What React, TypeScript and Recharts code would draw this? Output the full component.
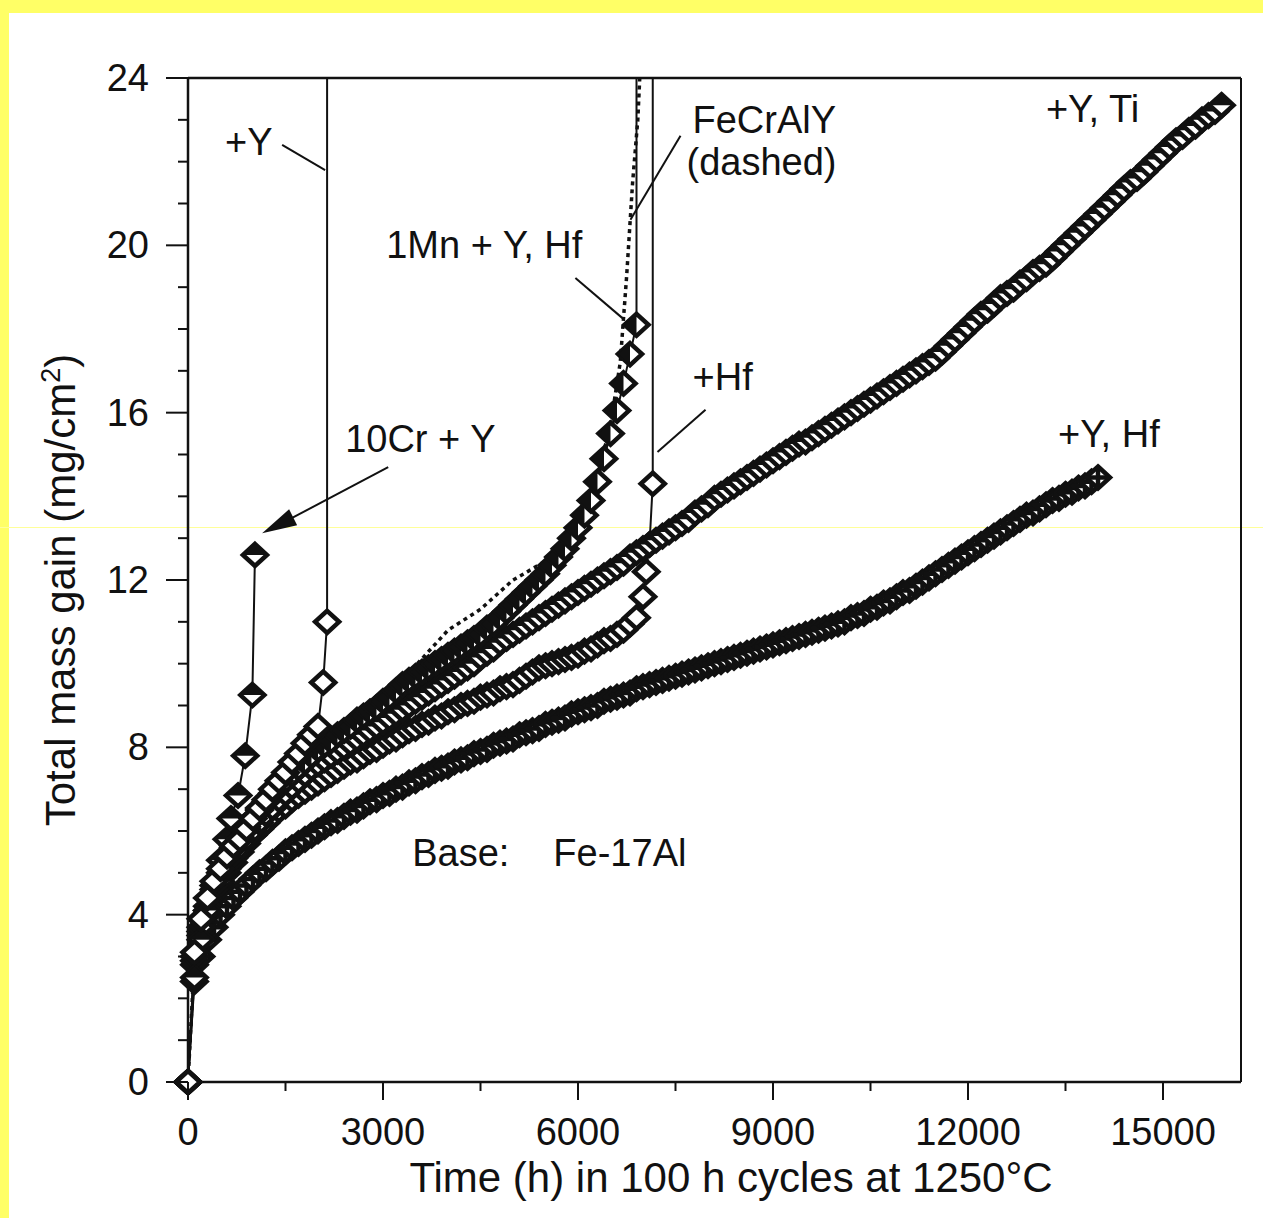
import React from "react";
import {
  LineChart,
  Line,
  XAxis,
  YAxis,
  ReferenceLine,
  ReferenceDot,
} from "recharts";

// one reading every 100 h cycle, starting at t = 0
const CYCLE_H = 100;

const yHfMass = [
  0, 2.4, 3.0, 3.4, 3.7, 4.0, 4.2, 4.4, 4.55, 4.7,
  4.85, 5.0, 5.1, 5.25, 5.35, 5.5, 5.6, 5.7, 5.8, 5.9,
  6.0, 6.1, 6.2, 6.25, 6.35, 6.45, 6.5, 6.6, 6.7, 6.75,
  6.85, 6.9, 7.0, 7.05, 7.15, 7.2, 7.3, 7.35, 7.45, 7.5,
  7.55, 7.65, 7.7, 7.75, 7.85, 7.9, 7.95, 8.05, 8.1, 8.15,
  8.2, 8.3, 8.35, 8.4, 8.45, 8.55, 8.6, 8.65, 8.7, 8.8,
  8.85, 8.9, 8.95, 9.0, 9.1, 9.15, 9.2, 9.25, 9.3, 9.4,
  9.45, 9.5, 9.55, 9.6, 9.65, 9.7, 9.75, 9.8, 9.85, 9.9,
  9.95, 10.0, 10.05, 10.1, 10.15, 10.2, 10.25, 10.3, 10.35, 10.4,
  10.45, 10.5, 10.55, 10.6, 10.65, 10.7, 10.75, 10.8, 10.85, 10.9,
  10.95, 11.0, 11.1, 11.15, 11.2, 11.3, 11.35, 11.45, 11.5, 11.6,
  11.7, 11.75, 11.85, 11.95, 12.05, 12.15, 12.25, 12.35, 12.45, 12.55,
  12.65, 12.75, 12.85, 12.95, 13.05, 13.15, 13.25, 13.35, 13.45, 13.55,
  13.6, 13.7, 13.8, 13.9, 13.95, 14.05, 14.1, 14.2, 14.25, 14.35,
  14.45,
];

const yTiMass = [
  0, 2.9, 3.6, 4.1, 4.5, 4.8, 5.1, 5.35, 5.6, 5.8,
  6.0, 6.2, 6.4, 6.55, 6.75, 6.9, 7.05, 7.2, 7.35, 7.5,
  7.6, 7.7, 7.8, 7.9, 8.0, 8.1, 8.2, 8.3, 8.4, 8.5,
  8.6, 8.7, 8.8, 8.9, 9.0, 9.1, 9.2, 9.3, 9.4, 9.5,
  9.6, 9.7, 9.8, 9.9, 10.0, 10.15, 10.25, 10.35, 10.5, 10.6,
  10.7, 10.8, 10.9, 11.0, 11.1, 11.2, 11.3, 11.4, 11.5, 11.6,
  11.7, 11.8, 11.9, 12.0, 12.1, 12.2, 12.3, 12.4, 12.55, 12.65,
  12.75, 12.85, 12.95, 13.05, 13.15, 13.25, 13.35, 13.45, 13.6, 13.7,
  13.8, 13.95, 14.05, 14.15, 14.25, 14.35, 14.45, 14.55, 14.65, 14.75,
  14.85, 14.95, 15.05, 15.15, 15.25, 15.3, 15.4, 15.5, 15.6, 15.7,
  15.8, 15.9, 16.0, 16.1, 16.2, 16.3, 16.4, 16.5, 16.6, 16.7,
  16.8, 16.9, 17.0, 17.1, 17.2, 17.3, 17.45, 17.6, 17.75, 17.9,
  18.05, 18.2, 18.35, 18.45, 18.6, 18.75, 18.85, 18.95, 19.1, 19.2,
  19.35, 19.45, 19.55, 19.7, 19.85, 20.0, 20.15, 20.3, 20.45, 20.6,
  20.75, 20.9, 21.05, 21.2, 21.35, 21.5, 21.6, 21.75, 21.9, 22.05,
  22.2, 22.35, 22.5, 22.6, 22.75, 22.85, 23.0, 23.1, 23.2, 23.35,
];

const hfMass = [
  0, 2.8, 3.5, 4.0, 4.4, 4.75, 5.0, 5.25, 5.5, 5.7,
  5.9, 6.05, 6.2, 6.35, 6.5, 6.6, 6.75, 6.85, 6.95, 7.05,
  7.15, 7.25, 7.35, 7.45, 7.55, 7.65, 7.7, 7.8, 7.9, 7.95,
  8.05, 8.15, 8.2, 8.3, 8.4, 8.45, 8.55, 8.6, 8.7, 8.75,
  8.85, 8.9, 9.0, 9.05, 9.1, 9.2, 9.25, 9.3, 9.4, 9.45,
  9.5, 9.6, 9.7, 9.8, 9.9, 9.95, 10.0, 10.05, 10.1, 10.15,
  10.2, 10.3, 10.35, 10.45, 10.55, 10.6, 10.7, 10.8, 10.95, 11.1,
];
// breakaway after 6900 h: [time, mass], last point at the top of the frame
const hfTail = [[7000, 11.6], [7050, 12.2], [7100, 12.85], [7150, 14.3], [7150, 24]];

const mnMass = [
  0, 3.0, 3.7, 4.2, 4.6, 5.0, 5.3, 5.6, 5.85, 6.1,
  6.3, 6.5, 6.7, 6.9, 7.05, 7.2, 7.35, 7.5, 7.65, 7.8,
  7.95, 8.05, 8.15, 8.3, 8.4, 8.5, 8.65, 8.75, 8.85, 8.95,
  9.1, 9.2, 9.35, 9.5, 9.6, 9.7, 9.8, 9.9, 10.0, 10.1,
  10.2, 10.3, 10.4, 10.5, 10.6, 10.7, 10.85, 10.95, 11.1, 11.25,
  11.4, 11.55, 11.7, 11.85, 12.0, 12.15, 12.35, 12.55, 12.75, 13.0,
  13.25, 13.55, 13.9, 14.35, 14.9, 15.5, 16.05, 16.7, 17.4, 18.1,
];
const mnTail = [[6900, 24]];

const yMass = [
  0, 3.1, 3.9, 4.4, 4.8, 5.1, 5.4, 5.65, 5.8, 6.05,
  6.3, 6.55, 6.75, 7.0, 7.2, 7.4, 7.65, 7.85, 8.1, 8.3,
  8.5,
];
const yTail = [[2080, 9.55], [2140, 11.0], [2140, 24]];

const crTime = [0, 100, 200, 300, 400, 500, 600, 660, 770, 880, 990, 1030];
const crMass = [0, 2.5, 3.4, 4.1, 4.7, 5.3, 5.8, 6.3, 6.85, 7.8, 9.25, 12.6];

const fecralyTime = [0, 100, 300, 600, 1000, 1500, 2000, 2500, 3000, 3500, 4000, 4500, 5000, 5500, 6000, 6300, 6500, 6650, 6750, 6840, 6920, 6950];
const fecralyMass = [0, 3.0, 4.2, 5.3, 6.4, 7.35, 8.05, 8.65, 9.3, 9.95, 10.8, 11.3, 12.0, 12.45, 13.35, 14.5, 15.7, 17.2, 19.3, 21.5, 23.0, 24];

const xMajor = [0, 3000, 6000, 9000, 12000, 15000];
const xTicks = [0, 1500, 3000, 4500, 6000, 7500, 9000, 10500, 12000, 13500, 15000];
const yTicks = [0, 1, 2, 3, 4, 5, 6, 7, 8, 9, 10, 11, 12, 13, 14, 15, 16, 17, 18, 19, 20, 21, 22, 23, 24];

const FONT = "'Liberation Sans', Arial, Helvetica, sans-serif";
const INK = "#111";
const Y_MAX = 24;
const X_MAX = 16200;

const byCycle = (mass: number[], tail: number[][] = []) =>
  mass.map((v, i) => ({ t: i * CYCLE_H, v })).concat(tail.map(([t, v]) => ({ t, v })));
const paired = (time: number[], mass: number[]) => time.map((t, i) => ({ t, v: mass[i] }));

const yHfData = byCycle(yHfMass);
const yTiData = byCycle(yTiMass);
const hfData = byCycle(hfMass, hfTail);
const mnData = byCycle(mnMass, mnTail);
const yData = byCycle(yMass, yTail);
const crData = paired(crTime, crMass);
const fecralyData = paired(fecralyTime, fecralyMass);

type Kind = "open" | "top" | "left" | "cross";

function diamond(kind: Kind) {
  return (p: any) => {
    const { cx, cy, payload, index } = p;
    // the point at the frame top only carries the line off-scale
    if (cx == null || cy == null || payload.v >= Y_MAX) return <g key={index} />;
    const w = 12;
    const h = 11;
    const d = `M${cx},${cy - h}L${cx + w},${cy}L${cx},${cy + h}L${cx - w},${cy}Z`;
    return (
      <g key={index}>
        <path d={d} fill="#fff" stroke={INK} strokeWidth={4.5} strokeLinejoin="miter" />
        {kind === "top" && (
          <path d={`M${cx - w},${cy}L${cx},${cy - h}L${cx + w},${cy}Z`} fill={INK} />
        )}
        {kind === "left" && (
          <path d={`M${cx},${cy - h}L${cx - w},${cy}L${cx},${cy + h}Z`} fill={INK} />
        )}
        {kind === "cross" && (
          <path d={`M${cx - w},${cy}H${cx + w}M${cx},${cy - h}V${cy + h}`} stroke={INK} strokeWidth={4.5} />
        )}
      </g>
    );
  };
}

function YTick(props: any) {
  const { x, y, payload } = props;
  const major = payload.value % 4 === 0;
  return (
    <g>
      <line x1={x - (major ? 22 : 10)} x2={x} y1={y} y2={y} stroke={INK} strokeWidth={2} />
      {major && (
        <text x={x - 39} y={y} dy={13} textAnchor="end" fontSize={38} fontFamily={FONT} fill={INK}>
          {payload.value}
        </text>
      )}
    </g>
  );
}

function XTick(props: any) {
  const { x, y, payload } = props;
  const major = xMajor.includes(payload.value);
  return (
    <g>
      <line x1={x} x2={x} y1={y} y2={y + (major ? 18 : 9)} stroke={INK} strokeWidth={2} />
      {major && (
        <text x={x} y={y + 63} textAnchor="middle" fontSize={38} fontFamily={FONT} fill={INK}>
          {payload.value}
        </text>
      )}
    </g>
  );
}

const note = (text: string) => (p: any) =>
  (
    <text x={p.cx} y={p.cy} fontSize={38} fontFamily={FONT} fill={INK}>
      {text}
    </text>
  );

const arrowHead = (p: any) => (
  <polygon
    points={`${p.cx},${p.cy} ${p.cx + 35},${p.cy - 8} ${p.cx + 27},${p.cy - 24}`}
    fill={INK}
  />
);

const labels: [string, number, number][] = [
  ["+Y", 570, 22.16],
  ["10Cr + Y", 2418, 15.06],
  ["1Mn + Y, Hf", 3049, 19.7],
  ["FeCrAlY", 7762, 22.69],
  ["(dashed)", 7670, 21.68],
  ["+Hf", 7762, 16.54],
  ["+Y, Ti", 13199, 22.95],
  ["+Y, Hf", 13384, 15.18],
  ["Base:", 3450, 5.16],
  ["Fe-17Al", 5621, 5.16],
];

const leaders: [number, number, number, number][] = [
  [1448, 22.4, 2110, 21.8],
  [3080, 14.7, 1500, 13.4],
  [5960, 19.22, 6684, 18.26],
  [7577, 22.62, 6807, 20.61],
  [7962, 16.07, 7223, 15.06],
];

const xTitle = (p: any) => {
  const vb = p.viewBox;
  return (
    <text x={731} y={vb.y + 110} textAnchor="middle" fontSize={42} fontFamily={FONT} fill={INK}>
      Time (h) in 100 h cycles at 1250°C
    </text>
  );
};

const yTitle = () => (
  <text
    x={75}
    y={590}
    transform="rotate(-90, 75, 590)"
    textAnchor="middle"
    fontSize={42}
    fontFamily={FONT}
    fill={INK}
  >
    <tspan>Total mass gain (mg/cm</tspan>
    <tspan dy={-15} fontSize={27}>2</tspan>
    <tspan dy={15}>)</tspan>
  </text>
);

export default function App() {
  const line = { stroke: INK, strokeWidth: 2, type: "linear" as const, isAnimationActive: false, activeDot: false };
  return (
    <div style={{ position: "absolute", left: 0, top: 0, width: 1263, height: 1218, background: "#fff" }}>
      <div style={{ position: "absolute", left: 0, top: 0, width: 1263, height: 13, background: "#ffff66" }} />
      <div style={{ position: "absolute", left: 0, top: 0, width: 9, height: 1218, background: "#ffff66" }} />
      <div style={{ position: "absolute", left: 0, top: 527, width: 1263, height: 1, background: "#ffff99" }} />
      <div style={{ position: "absolute", left: 0, top: 0 }}>
        <LineChart width={1263} height={1218} margin={{ top: 78, right: 22, bottom: 0, left: 0 }}>
          <XAxis
            dataKey="t"
            type="number"
            domain={[0, X_MAX]}
            ticks={xTicks}
            interval={0}
            height={136}
            tickSize={0}
            tickMargin={0}
            tickLine={false}
            tick={<XTick />}
            axisLine={{ stroke: INK, strokeWidth: 2.5 }}
            label={{ content: xTitle }}
          />
          <YAxis
            dataKey="v"
            type="number"
            domain={[0, Y_MAX]}
            ticks={yTicks}
            interval={0}
            width={188}
            tickSize={0}
            tickMargin={0}
            tickLine={false}
            tick={<YTick />}
            axisLine={{ stroke: INK, strokeWidth: 2.5 }}
            label={{ content: yTitle }}
          />
          <ReferenceLine y={Y_MAX} stroke={INK} strokeWidth={2.5} />
          <ReferenceLine x={X_MAX} stroke={INK} strokeWidth={2} />

          <Line data={yHfData} dataKey="v" {...line} dot={diamond("cross")} />
          <Line data={hfData} dataKey="v" {...line} dot={diamond("open")} />
          <Line data={yTiData} dataKey="v" {...line} dot={diamond("top")} />
          <Line data={mnData} dataKey="v" {...line} dot={diamond("left")} />
          <Line data={fecralyData} dataKey="v" {...line} strokeWidth={3.5} strokeDasharray="4 4" dot={false} />
          <Line data={crData} dataKey="v" {...line} dot={diamond("top")} />
          <Line data={yData} dataKey="v" {...line} dot={diamond("open")} />

          {leaders.map(([x1, y1, x2, y2], i) => (
            <ReferenceLine
              key={`ld${i}`}
              segment={[{ x: x1, y: y1 }, { x: x2, y: y2 }]}
              stroke={INK}
              strokeWidth={2}
            />
          ))}
          <ReferenceDot x={1140} y={13.12} r={0} shape={arrowHead} />
          {labels.map(([text, x, y]) => (
            <ReferenceDot key={text} x={x} y={y} r={0} shape={note(text)} />
          ))}
        </LineChart>
      </div>
    </div>
  );
}
